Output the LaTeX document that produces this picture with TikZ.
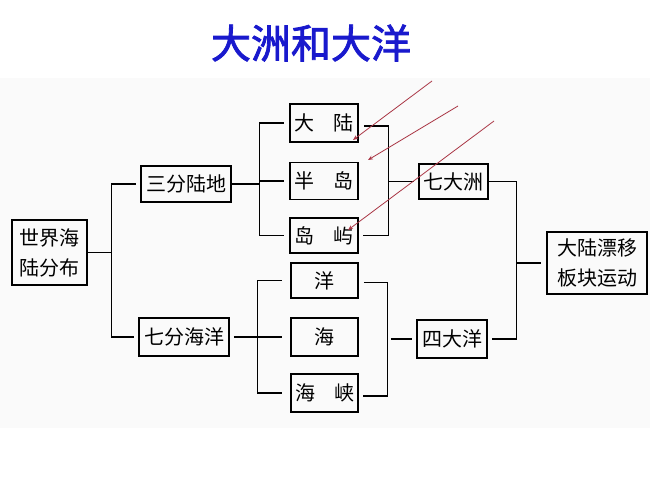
\documentclass[tikz,border=0pt]{standalone}
\usepackage{fontspec}
\newfontfamily\cjk{Noto Sans CJK SC}
\newfontfamily\cjkbold{Noto Sans CJK SC}[FakeBold=2]
\usetikzlibrary{calc,arrows.meta}
\definecolor{titleblue}{RGB}{25,25,205}
\definecolor{arrowred}{RGB}{170,55,70}
\begin{document}
\begin{tikzpicture}[x=1pt,y=-1pt,
  box/.style={draw=black,line width=1.5pt,inner sep=0pt,align=center,
    font=\cjk\fontsize{20}{30}\selectfont},
  conn/.style={line width=1.4pt},
  redarrow/.style={draw=arrowred,line width=0.8pt,-{Stealth[length=5pt,width=4pt]}}]
\useasboundingbox (0,0) rectangle (650,487);
\fill[black!2] (0,78) rectangle (650,428);
\node[font=\cjkbold\fontsize{40}{44}\selectfont,text=titleblue] (title) at (311,43) {大洲和大洋};
% boxes
\node[box,minimum width=75pt,minimum height=65pt] (world) at (49.5,252.5) {世界海\\陆分布};
\node[box,minimum width=90pt,minimum height=36pt] (sanfen) at (186,184) {三分陆地};
\node[box,minimum width=90pt,minimum height=38pt] (qifen) at (184,337) {七分海洋};
\node[box,minimum width=68pt,minimum height=38pt] (dalu) at (324,123) {大\hspace{19pt}陆};
\node[box,minimum width=68pt,minimum height=37pt] (bandao) at (324,181) {半\hspace{19pt}岛};
\node[box,minimum width=68pt,minimum height=35pt] (daoyu) at (324,235.5) {岛\hspace{19pt}屿};
\node[box,minimum width=67pt,minimum height=35pt] (yang) at (324.5,280.5) {洋};
\node[box,minimum width=67pt,minimum height=38pt] (hai) at (324.5,337) {海};
\node[box,minimum width=67pt,minimum height=38pt] (haixia) at (324.5,393) {海\hspace{19pt}峡};
\node[box,minimum width=69pt,minimum height=35pt] (qidazhou) at (453.5,181.5) {七大洲};
\node[box,minimum width=70pt,minimum height=38pt] (sidayang) at (452,339) {四大洋};
\node[box,minimum width=100pt,minimum height=62pt] (piaoyi) at (597,263) {大陆漂移\\板块运动};
% connectors: world
\draw[conn] (world.east) -- ++(24,0) coordinate (j1);
\draw[conn,shorten >=4pt] (j1) |- (sanfen.west);
\draw[conn,shorten >=4pt] (j1) |- (qifen.west);
% land bracket
\draw[conn] (sanfen.east) -- ++(28,0) coordinate (j2);
\draw[conn,shorten >=5pt] (j2) |- (dalu.west);
\draw[conn,shorten >=5pt] (j2) |- (daoyu.west);
\draw[conn,shorten >=5pt] (bandao.west -| j2) -- (bandao.west);
% ocean bracket
\draw[conn] ($(qifen.east)+(4,0)$) -- ++(24,0) coordinate (j6);
\draw[conn,shorten >=8pt] (j6) |- (yang.west);
\draw[conn,shorten >=8pt] (j6) |- (haixia.west);
\draw[conn,shorten >=8pt] (hai.west -| j6) -- (hai.west);
% continents merge
\coordinate (j3) at ($(dalu.east)!.5!(daoyu.east)+(30,0)$);
\draw[conn] ($(dalu.east)+(5,3)$) -| (j3) |- ($(daoyu.east)+(4,0)$);
\draw[conn,shorten >=4pt] (qidazhou.west -| j3) -- (qidazhou.west);
% oceans merge
\coordinate (j4) at ($(yang.east)!.5!(haixia.east)+(29,0)$);
\draw[conn] ($(yang.east)+(5,2)$) -| (j4) |- ($(haixia.east)+(4,3)$);
\draw[conn,shorten >=4pt] (sidayang.west -| j4) ++(3,0) -- (sidayang.west);
% final merge
\coordinate (j5) at ($(qidazhou.east)!.5!(sidayang.east)+(28,0)$);
\draw[conn] (qidazhou.east) -| (j5) |- ($(sidayang.east)+(4,0)$);
\draw[conn,shorten >=5pt] (piaoyi.west -| j5) -- (piaoyi.west);
% red arrows
\coordinate (a1s) at (432,81);  \coordinate (a1e) at (353,140);
\coordinate (a2s) at (458,106); \coordinate (a2e) at (368,160);
\coordinate (a3s) at (494,121); \coordinate (a3e) at (348,230);
\draw[redarrow] (a1s) -- (a1e);
\draw[redarrow] (a2s) -- (a2e);
\draw[redarrow] (a3s) -- (a3e);
\end{tikzpicture}
\end{document}
